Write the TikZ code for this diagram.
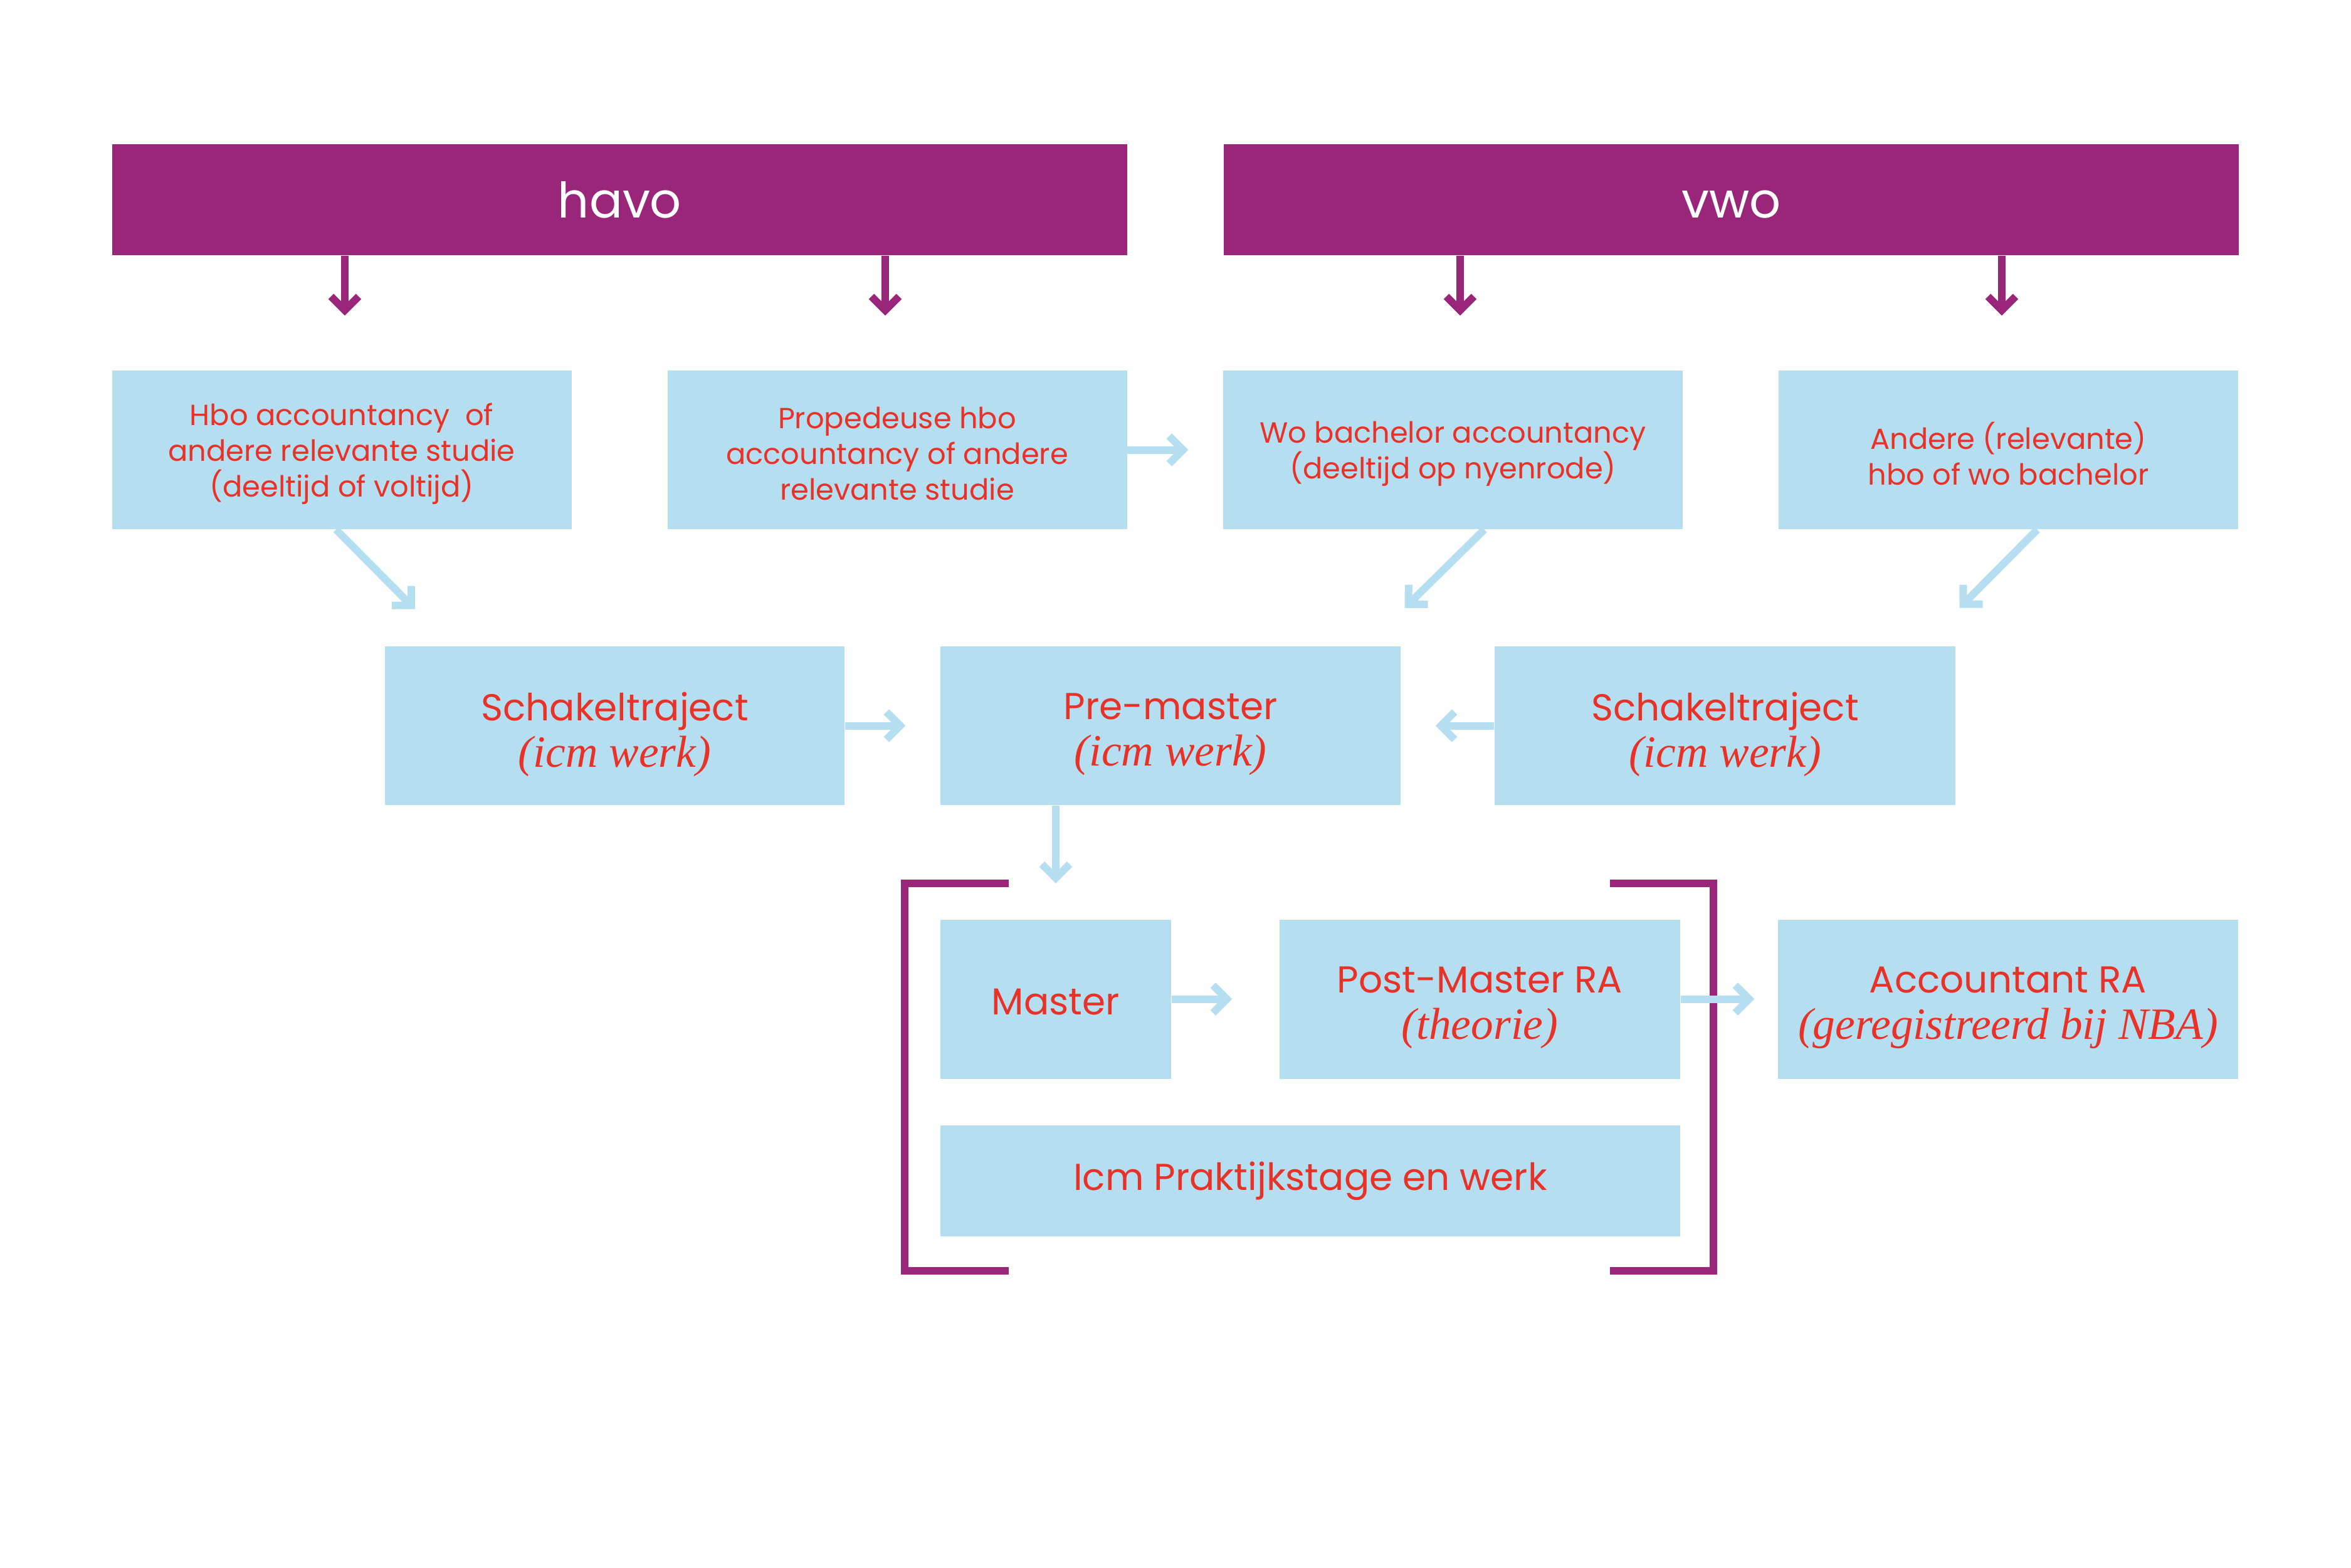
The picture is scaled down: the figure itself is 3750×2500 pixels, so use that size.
\documentclass[tikz,border=0pt]{standalone}
\usepackage{fontspec}
\setmainfont{Poppins}
\newfontfamily\serifit{Liberation Serif}
\usetikzlibrary{arrows.meta,calc}
\definecolor{paars}{RGB}{154,38,121}
\definecolor{lichtblauw}{RGB}{181,223,241}
\definecolor{rood}{RGB}{232,50,40}
\newcommand{\wrk}[1]{{\serifit\itshape\fontsize{20.3}{21}\selectfont #1}}

\begin{document}
\begin{tikzpicture}[x=0.1mm,y=-0.1mm,
    balk/.style={fill=paars,text=white,inner sep=0,minimum width=161.9mm,minimum height=17.7mm,font=\fontsize{22.3}{26}\selectfont},
    blok/.style={fill=lichtblauw,inner sep=0,minimum height=25.3mm},
    klein/.style={blok,minimum width=73.3mm},
    groot/.style={blok,minimum height=25.4mm},
    kt/.style={text=rood,align=center,font=\fontsize{13.2}{16.2}\selectfont,yshift=-0.6mm},
    gt/.style={text=rood,align=center,font=\fontsize{17}{21}\selectfont,yshift=-1.4mm},
    pijl/.style={paars,line width=1.2mm,shorten >=8.7mm,-{Straight Barb[sharp,length=2.2mm,width=4.4mm]}},
    lpijl/.style={lichtblauw,line width=1.2mm,-{Straight Barb[sharp,length=2.2mm,width=4.4mm]}},
    haak/.style={paars,line width=1.2mm}]
\useasboundingbox (0,0) rectangle (3750,2500);
% kopbalken
\node[balk] (havo) at (988.5,318.5) {havo};
\node[balk] (vwo) at (2761.5,318.5) {\vphantom{h}vwo};
% opleidingen
\node[klein,label={[kt]center:Hbo accountancy\ \ of\\andere relevante studie\\(deeltijd of voltijd)}] (hbo) at (545,717.5) {};
\node[klein,label={[kt]center:Propedeuse hbo\\accountancy of andere\\relevante studie}] (prop) at (1431,717.5) {};
\node[klein,label={[kt]center:Wo bachelor accountancy\\(deeltijd op nyenrode)}] (wo) at (2317.5,717.5) {};
\node[klein,label={[kt]center:Andere (relevante)\\hbo of wo bachelor}] (ander) at (3203.5,717.5) {};
% schakeljaar
\node[blok,minimum width=73.3mm,label={[gt]center:Schakeltraject\\\wrk{(icm werk)}}] (schakel1) at (980.5,1157.5) {};
\node[blok,minimum width=73.4mm,label={[gt]center:Pre-master\\\wrk{(icm werk)}}] (pre) at (1867,1157.5) {};
\node[blok,minimum width=73.5mm,label={[gt]center:Schakeltraject\\\wrk{(icm werk)}}] (schakel2) at (2751.5,1157.5) {};
% master en RA
\node[groot,minimum width=36.8mm,label={[gt,yshift=0.9mm]center:Master}] (master) at (1684,1593.5) {};
\node[groot,minimum width=63.9mm,label={[gt]center:Post-Master RA\\\wrk{(theorie)}}] (post) at (2360.5,1593.5) {};
\node[groot,minimum width=73.4mm,label={[gt]center:Accountant RA\\\wrk{(geregistreerd bij NBA)}}] (acc) at (3203,1593.5) {};
\node[groot,minimum width=118mm,minimum height=17.7mm,label={[gt,yshift=1.4mm]center:Icm Praktijkstage en werk}] (stage) at (2090,1883.5) {};
% haken
\draw[haak] (1609,1409) -- (1443,1409) -- (1443,2027) -- (1609,2027);
\draw[haak] (2568,1409) -- (2733,1409) -- (2733,2027) -- (2568,2027);
% pijlen
\foreach \bron/\doel/\dx in {havo/hbo/5,havo/prop/-19,vwo/wo/11.5,vwo/ander/-10.5}
  \draw[pijl] ($(\bron.south -| \doel.north)+(\dx,0)$) -- ($(\doel.north)+(\dx,0)$);
\draw[lpijl] ($(hbo.south)+(-9,0)$) -- ++(126,127);
\draw[lpijl] ($(wo.south)+(50,0)$) -- ++(-127,125);
\draw[lpijl] ($(ander.south)+(46,0)$) -- ++(-124,125);
\draw[lpijl,shorten >=5.5mm] (prop.east) -- (wo.west);
\draw[lpijl,shorten >=5.5mm] (schakel1.east) -- (pre.west);
\draw[lpijl,shorten >=5.5mm] (schakel2.west) -- (pre.east);
\draw[lpijl,shorten >=5.7mm] (master.north |- pre.south) -- (master.north);
\draw[lpijl,shorten >=7.5mm] (master.east) -- (post.west);
\draw[lpijl,shorten >=3.7mm] (post.east) -- (acc.west);
\end{tikzpicture}
\end{document}
